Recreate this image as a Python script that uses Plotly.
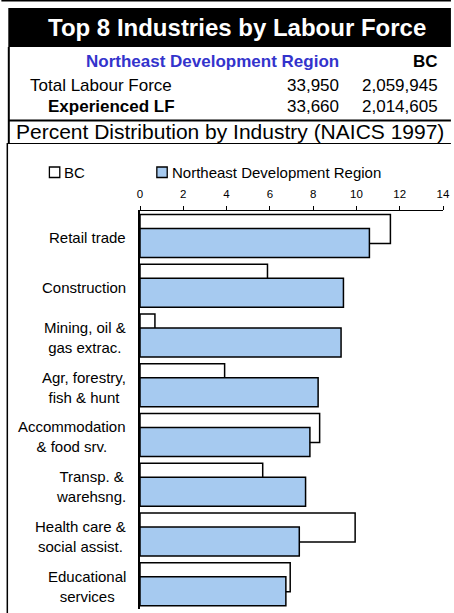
import plotly.graph_objects as go

# ---------------- data ----------------
categories = ["Retail trade", "Construction", "Mining, oil &<br>gas extrac.",
              "Agr, forestry,<br>fish & hunt", "Accommodation<br>& food srv.",
              "Transp. &<br>warehsng.", "Health care &<br>social assist.",
              "Educational<br>services"]
bc_values = [11.57, 5.89, 0.69, 3.91, 8.30, 5.67, 9.94, 6.94]
ne_values = [10.60, 9.40, 9.29, 8.23, 7.85, 7.65, 7.36, 6.74]
series_names = ["BC", "Northeast Development Region"]
series_colors = ["white", "#A6CAF0"]

title_text = "Top 8 Industries by Labour Force"
subtitle_text = "Percent Distribution by Industry (NAICS 1997)"
table_header = ["Northeast Development Region", "BC"]
table_rows = ["Total Labour Force", "Experienced LF"]
table_region = ["33,950", "33,660"]
table_bc = ["2,059,945", "2,014,605"]
x_ticks = [0, 2, 4, 6, 8, 10, 12, 14]

# ---------------- geometry ----------------
W, H = 454, 613
ML, MR, MT, MB = 140, 8, 211, 4
PW = W - ML - MR
PH = H - MT - MB
FONT = "Liberation Sans, Arial, sans-serif"


def px(x):
    return (x - ML) / PW


def py(y):
    return (H - MB - y) / PH


fig = go.Figure()

bar_w = 0.583
offsets = [-0.432, -0.149]
for name, vals, col, off in zip(series_names, [bc_values, ne_values], series_colors, offsets):
    fig.add_trace(go.Bar(
        y=categories, x=vals, orientation="h", name=name, showlegend=False,
        marker=dict(color=col, line=dict(color="black", width=1.5)),
        width=bar_w, offset=off,
    ))

shapes = []
# top thin line
shapes.append(dict(type="rect", xref="paper", yref="paper",
                   x0=px(0), x1=px(W), y0=py(0), y1=py(1.5),
                   fillcolor="black", line=dict(width=0), layer="above"))
# black header band
shapes.append(dict(type="rect", xref="paper", yref="paper",
                   x0=px(7), x1=px(W), y0=py(8), y1=py(47),
                   fillcolor="black", line=dict(width=0), layer="above"))
# table box left border
shapes.append(dict(type="line", xref="paper", yref="paper",
                   x0=px(7.5), x1=px(7.5), y0=py(47), y1=py(143),
                   line=dict(color="black", width=2), layer="above"))
# line under table
shapes.append(dict(type="line", xref="paper", yref="paper",
                   x0=px(7), x1=px(W), y0=py(120.5), y1=py(120.5),
                   line=dict(color="black", width=2), layer="above"))
# line under subtitle
shapes.append(dict(type="line", xref="paper", yref="paper",
                   x0=px(6), x1=px(W), y0=py(143.5), y1=py(143.5),
                   line=dict(color="black", width=1.2), layer="above"))
# chart box left border
shapes.append(dict(type="line", xref="paper", yref="paper",
                   x0=px(6), x1=px(6), y0=py(143), y1=py(H),
                   line=dict(color="black", width=1.5), layer="above"))

annotations = []


def txt(text, x, y, size, xanchor="left", color="black", bold=False, align="left"):
    t = f"<b>{text}</b>" if bold else text
    annotations.append(dict(text=t, x=x, y=y, xref="paper", yref="paper",
                            xanchor=xanchor, yanchor="middle", showarrow=False,
                            align=align,
                            font=dict(family=FONT, size=size, color=color)))


txt(title_text, px(237.5), py(27), 24, xanchor="center", color="white", bold=True)
txt(table_header[0], px(343), py(61), 17, xanchor="right", color="#3333CC", bold=True)
txt(table_header[1], px(443), py(61), 17, xanchor="right", bold=True)
txt(table_rows[0], px(27), py(85), 17, xanchor="left")
txt(table_rows[1], px(45), py(107), 17, xanchor="left", bold=True)
for i, (a, b) in enumerate(zip(table_region, table_bc)):
    yy = [85, 107][i]
    txt(a, px(343), py(yy), 17, xanchor="right")
    txt(b, px(443), py(yy), 17, xanchor="right")
txt(subtitle_text, px(231), py(131), 21, xanchor="center")

# legend (keys + labels)
legend_x = [48.5, 157]
for name, col, lx in zip(series_names, series_colors, legend_x):
    shapes.append(dict(type="rect", xref="paper", yref="paper",
                       x0=px(lx), x1=px(lx + 10.5), y0=py(167), y1=py(177.5),
                       fillcolor=col, line=dict(color="black", width=1.3), layer="above"))
    txt(name, px(lx + 13), py(172), 15, xanchor="left")

for c in categories:
    annotations.append(dict(text=c, x=px(128), y=c, xref="paper", yref="y",
                            xanchor="right", yanchor="middle", align="center",
                            showarrow=False, yshift=-2,
                            font=dict(family=FONT, size=15, color="black")))

fig.update_layout(
    width=W, height=H,
    margin=dict(l=ML, r=MR, t=MT, b=MB, pad=0),
    paper_bgcolor="white", plot_bgcolor="white",
    barmode="overlay",
    font=dict(family=FONT, color="black"),
    shapes=shapes, annotations=annotations,
    showlegend=False,
    xaxis=dict(side="top", range=[0, 14], tickvals=x_ticks, ticktext=[str(v) for v in x_ticks],
               ticks="outside", ticklen=4, tickcolor="black", tickwidth=1,
               showline=True, linecolor="black", linewidth=1, showgrid=False, zeroline=False,
               tickfont=dict(family=FONT, size=11.5, color="black"), ticklabelstandoff=3,
               fixedrange=True),
    yaxis=dict(autorange="reversed", showticklabels=False, ticks="", showgrid=False,
               showline=True, linecolor="black", linewidth=1.5, zeroline=False,
               fixedrange=True),
)

fig.write_html("out.html", config={"displayModeBar": False},
               post_script="document.body.style.margin='0px';document.body.style.overflow='hidden';")
